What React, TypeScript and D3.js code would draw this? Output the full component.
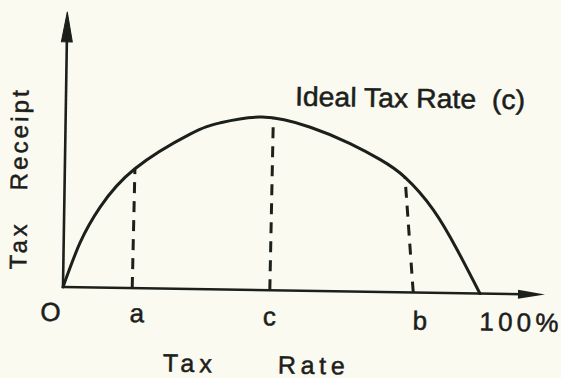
import React from "react";
import * as d3 from "d3";

// Laffer curve: tax rate (%) vs tax receipt (relative, peak = 100)
const taxRate = [0, 3.9, 8.6, 16.8, 29.9, 37.1, 47.0, 58.7, 68.3, 75.6, 81.6, 88.5, 94.4, 100];
const taxReceipt = [0, 25.6, 46.5, 69.0, 89.5, 96.3, 100, 94.6, 85.5, 76.5, 66.5, 48.0, 25.0, 0];

// dashed reference lines (a, c, b)
const markerNames = ["a", "c", "b"];
const markerBaseRates = [16.6, 49.6, 84.0];
const markerTopRates = [16.8, 49.8, 81.6];
const markerTopReceipts = [69.0, 99.6, 66.5];

// x tick labels
const tickLabels = ["O", "a", "c", "b", "100%"];
const tickRates = [0, 16.6, 49.6, 84.0, 100];

const xAxisMax = 115.6;
const yAxisMax = 159;

const titleText = "Ideal Tax Rate  (c)";
const xTitleWords = ["Tax", "Rate"];
const yTitleWords = ["Tax", "Receipt"];

const INK = "#1b201b";
const BG = "#fbfaf1";
const FONT = "'Liberation Sans', Arial, sans-serif";

export default function App() {
  const W = 561;
  const H = 378;
  const x = d3.scaleLinear().domain([0, 100]).range([0, 417]);
  const y = d3.scaleLinear().domain([0, 100]).range([0, -173]);

  const pts: [number, number][] = taxRate.map((r, i) => [r, taxReceipt[i]]);
  const line = d3
    .line<[number, number]>()
    .x((d) => x(d[0]))
    .y((d) => y(d[1]))
    .curve(d3.curveNatural);

  const xEnd = x(xAxisMax);
  const yEnd = y(yAxisMax);

  // label nudges (style only)
  const tickDx = [-12, 5, 0, 7, 0];
  const tickDy = [34, 34, 35, 37, 37];
  const tickAnchor = ["middle", "middle", "middle", "middle", "start"];
  const tickLen = [0, 0, 0, 0, 79];

  const textStyle = { stroke: INK, strokeWidth: 0.5 };

  return (
    <svg
      width={W}
      height={H}
      style={{ position: "absolute", left: 0, top: 0, background: BG }}
    >
      <rect x={0} y={0} width={W} height={H} fill={BG} />
      <g transform="translate(63,287) rotate(0.9)">
        {/* axes */}
        <line x1={x(0)} y1={0} x2={xEnd - 20} y2={0} stroke={INK} strokeWidth={2.6} />
        <path d={`M${xEnd},0 L${xEnd - 27},-4.5 L${xEnd - 27},4.5 Z`} fill={INK} />
        <line x1={0} y1={y(0) + 1} x2={0} y2={yEnd + 22} stroke={INK} strokeWidth={2.6} />
        <path d={`M0,${yEnd} L-5.5,${yEnd + 30} L5.5,${yEnd + 30} Z`} fill={INK} strokeLinejoin="round" stroke={INK} strokeWidth={1} />

        {/* dashed markers */}
        {markerNames.map((n, i) => (
          <line
            key={n}
            x1={x(markerBaseRates[i])}
            y1={y(0)}
            x2={x(markerTopRates[i])}
            y2={y(markerTopReceipts[i])}
            stroke={INK}
            strokeWidth={3}
            strokeDasharray="11,8"
          />
        ))}

        {/* curve */}
        <path d={line(pts) || ""} fill="none" stroke={INK} strokeWidth={3} strokeLinecap="round" />

        {/* tick labels */}
        {tickLabels.map((t, i) => (
          <text
            key={t}
            x={x(tickRates[i]) + tickDx[i]}
            y={tickDy[i]}
            textAnchor={tickAnchor[i] as any}
            fontFamily={FONT}
            fontSize={26}
            fill={INK}
            style={textStyle}
            {...(tickLen[i] ? { textLength: tickLen[i], lengthAdjust: "spacing" } : {})}
          >
            {t}
          </text>
        ))}

        {/* title */}
        <text x={229} y={-185} fontFamily={FONT} fontSize={27} fill={INK} textLength={230} lengthAdjust="spacingAndGlyphs" style={{ ...textStyle, whiteSpace: "pre" }}>
          {titleText}
        </text>

        {/* x axis title */}
        <text x={101} y={83} fontFamily={FONT} fontSize={25} fill={INK} style={textStyle} textLength={49} lengthAdjust="spacing">
          {xTitleWords[0]}
        </text>
        <text x={216} y={83} fontFamily={FONT} fontSize={25} fill={INK} style={textStyle} textLength={67} lengthAdjust="spacing">
          {xTitleWords[1]}
        </text>

        {/* y axis title */}
        <text transform="translate(-37,-17) rotate(-90)" fontFamily={FONT} fontSize={24} fill={INK} style={textStyle} textLength={45} lengthAdjust="spacing">
          {yTitleWords[0]}
        </text>
        <text transform="translate(-37.5,-96) rotate(-90)" fontFamily={FONT} fontSize={24} fill={INK} style={textStyle} textLength={100} lengthAdjust="spacing">
          {yTitleWords[1]}
        </text>
      </g>
    </svg>
  );
}
